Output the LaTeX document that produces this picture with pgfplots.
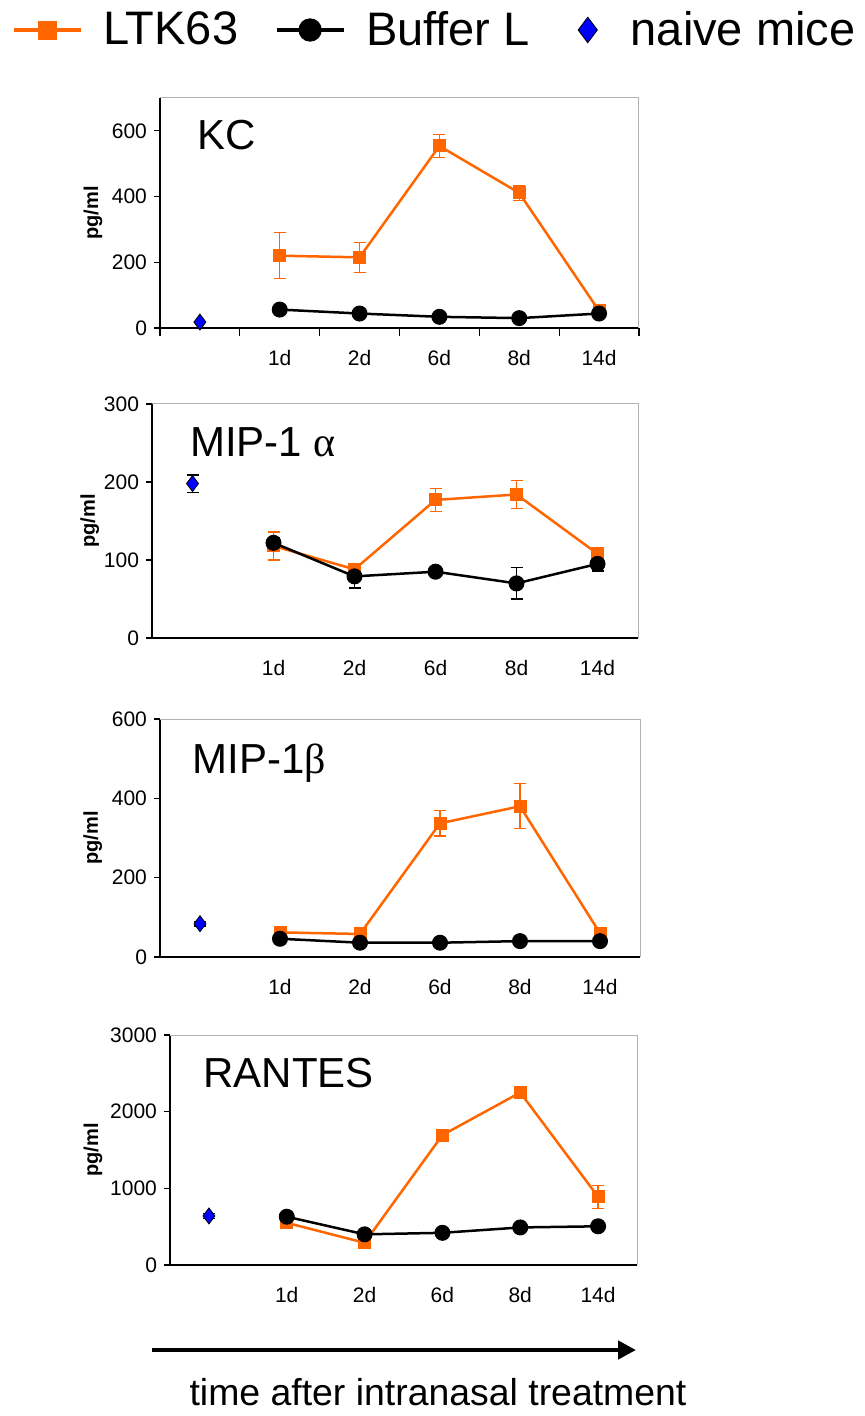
\documentclass[border=0pt]{standalone}
\usepackage{pgfplots}
\pgfplotsset{compat=1.18}
\usetikzlibrary{arrows.meta}
\usepackage{fontspec}
\setmainfont{Liberation Sans}
\newfontfamily\seriffont{Liberation Serif}
\definecolor{ltk}{HTML}{FF6600}
\definecolor{naive}{HTML}{0000FF}

\pgfplotsset{
  panel/.style={
    scale only axis, anchor=north west,
    xmin=-0.5, xmax=5.5, ymin=0,
    axis x line*=bottom, axis y line*=left,
    axis line style={black, line width=0.6pt, -},
    tick align=outside,
    major tick length=3pt,
    ytick style={black, line width=0.6pt},
    xtick={1,2,3,4,5}, xticklabels={1d,2d,6d,8d,14d},
    major x tick style={draw=none},
    tick label style={font=\fontsize{10.5}{12}\selectfont},
    /pgf/number format/assume math mode=true,
    /pgf/number format/1000 sep={},
    xticklabel style={anchor=center, yshift=-12pt},
    ylabel={pg/ml},
    clip=false,
  },
  ylabx/.style={every axis y label/.style={at={(axis description cs:#1,0.5)}, rotate=90, anchor=center, font=\bfseries\fontsize{10}{12}\selectfont}},
  ltkstyle/.style={ltk, line width=1.25pt, mark=square*, mark size=3pt, mark options={solid, fill=ltk, draw=ltk, line width=0.5pt},
     error bars/.cd, y dir=both, y explicit, error mark=|, error bar style={line width=0.6pt, ltk}, error mark options={mark size=3pt, line width=0.6pt, ltk}},
  bufstyle/.style={black, line width=1.25pt, mark=*, mark size=3.75pt, mark options={solid, fill=black, draw=black, line width=0.5pt},
     error bars/.cd, y dir=both, y explicit, error mark=|, error bar style={line width=0.6pt, black}, error mark options={mark size=3pt, line width=0.6pt, black}},
  naivestyle/.style={only marks, mark=diamond*, mark size=4pt, mark options={fill=naive, draw=black, line width=0.4pt},
     legend image code/.code={\path[draw=none, fill=none] (0pt,0pt) -- (22.5pt,0pt); \draw[##1, every mark/.append style={scale=1.6, line width=0.4pt}] plot coordinates {(11pt,0pt)};},
     error bars/.cd, y dir=both, y explicit, error mark=|, error bar style={line width=0.6pt, black}, error mark options={mark size=3pt, line width=0.6pt, black}},
}
\newcommand{\graybox}{\draw[gray!60, line width=0.5pt] (rel axis cs:0,1) -- (rel axis cs:1,1) -- (rel axis cs:1,0);}

\begin{document}
\begin{tikzpicture}
\useasboundingbox (0,0) rectangle (432pt,-708pt);

% Panel 1: KC
\begin{axis}[panel, ylabx=-0.14, at={(80pt,-49pt)}, width=239.5pt, height=115pt,
  ymax=700, ytick={0,200,400,600},
  minor xtick={-0.5,0.5,1.5,2.5,3.5,4.5,5.5}, minor tick length=4pt,
  minor x tick style={black, line width=0.6pt},
  legend columns=3,
  legend image code/.code={\draw[mark repeat=2,mark phase=2,#1,line width=2.4pt, every mark/.append style={scale=1.5, line width=0.4pt}] plot coordinates {(0pt,0pt) (16.75pt,0pt) (33.5pt,0pt)};},
  legend style={at={(axis description cs:-0.311,1.2957)}, anchor=west, draw=none, fill=none, inner sep=0pt,
    font=\fontsize{23.5}{28}\selectfont,
    /tikz/every odd column/.append style={column sep=10pt},
    /tikz/every even column/.append style={column sep=18pt},
    nodes={inner sep=0pt, anchor=west}},
  ]
\graybox
\addplot[ltkstyle] coordinates {(1,220) +- (0,70) (2,215) +- (0,45) (3,554) +- (0,35) (4,411) +- (0,22) (5,52) +- (0,5)};
\addlegendentry{LTK63}
\addplot[bufstyle] coordinates {(1,56) (2,44) (3,34) (4,30) (5,44)};
\addlegendentry{Buffer L}
\addplot[naivestyle] coordinates {(0,18) +- (0,0)};
\addlegendentry{naive mice}
\node[anchor=base west, font=\fontsize{21}{24}\selectfont, inner sep=0pt] at (rel axis cs:0.077,0.774) {KC};
\end{axis}

% Panel 2: MIP-1 alpha
\begin{axis}[panel, ylabx=-0.128, at={(76pt,-202pt)}, width=243pt, height=117pt,
  ymax=300, ytick={0,100,200,300}]
\graybox
\addplot[ltkstyle] coordinates {(1,118) +- (0,18) (2,88) +- (0,4) (3,177) +- (0,15) (4,184) +- (0,18) (5,108) +- (0,5)};
\addplot[bufstyle] coordinates {(1,122) +- (0,7) (2,79) +- (0,15) (3,85) +- (0,3) (4,70) +- (0,20) (5,95) +- (0,9)};
\addplot[naivestyle] coordinates {(0,198) +- (0,11)};
\node[anchor=base west, font=\fontsize{21}{24}\selectfont, inner sep=0pt] at (rel axis cs:0.078,0.774) {MIP-1 {\seriffont α}};
\end{axis}

% Panel 3: MIP-1 beta
\begin{axis}[panel, ylabx=-0.14, at={(80pt,-359.5pt)}, width=240pt, height=119pt,
  ymax=600, ytick={0,200,400,600}]
\graybox
\addplot[ltkstyle] coordinates {(1,62) +- (0,5) (2,58) +- (0,3) (3,337) +- (0,32) (4,380) +- (0,57) (5,60) +- (0,5)};
\addplot[bufstyle] coordinates {(1,46) (2,36) (3,36) (4,40) (5,40)};
\addplot[naivestyle] coordinates {(0,84) +- (0,6)};
\node[anchor=base west, font=\fontsize{21}{24}\selectfont, inner sep=0pt] at (rel axis cs:0.067,0.773) {MIP-1{\seriffont β}};
\end{axis}

% Panel 4: RANTES
\begin{axis}[panel, ylabx=-0.165, at={(85pt,-517.5pt)}, width=233.5pt, height=115pt,
  ymax=3000, ytick={0,1000,2000,3000}]
\graybox
\addplot[ltkstyle] coordinates {(1,550) +- (0,30) (2,290) +- (0,30) (3,1695) +- (0,40) (4,2250) +- (0,70) (5,890) +- (0,150)};
\addplot[bufstyle] coordinates {(1,630) (2,400) (3,420) (4,490) (5,505)};
\addplot[naivestyle] coordinates {(0,640) +- (0,30)};
\node[anchor=base west, font=\fontsize{21}{24}\selectfont, inner sep=0pt] at (rel axis cs:0.071,0.77) {RANTES};
\end{axis}

\draw[line width=2.2pt, -{Triangle[length=9pt, width=9pt]}] (76pt,-675pt) -- (318pt,-675pt);
\node[anchor=base, font=\fontsize{18.7}{22}\selectfont, inner sep=0pt] at (219pt,-702.5pt) {time after intranasal treatment};
\end{tikzpicture}
\end{document}
